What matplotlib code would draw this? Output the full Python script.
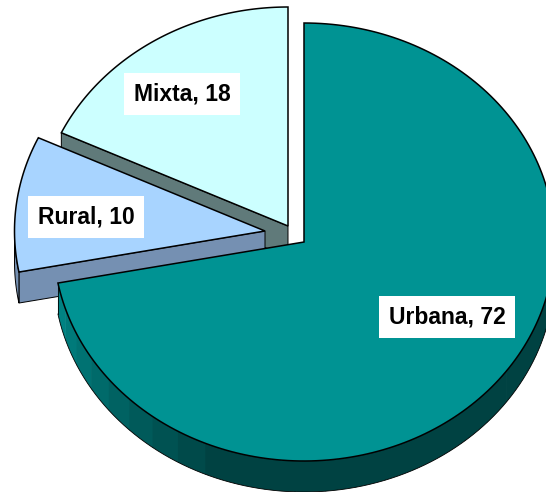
import numpy as np
import matplotlib
matplotlib.use("Agg")
import matplotlib.pyplot as plt
from matplotlib.colors import to_rgb
from matplotlib.patches import Polygon

categories = ["Urbana", "Rural", "Mixta"]
values = [72, 10, 18]
top_colors = ["#009393", "#A8D4FF", "#CCFFFF"]
side_colors = ["#004242", "#7590B2", "#607A7A"]
centers = [(304, 242), (265, 231), (288, 226)]
label_pos = [(447, 317), (86, 217), (182, 94)]

RX, RY = 250.5, 219
DEPTH = 31
EDGE = "black"


def rim(center, a0, a1, dy=0):
    # angles in degrees, clockwise from 12 o'clock
    t = np.radians(np.linspace(a0, a1, 200))
    return np.column_stack([center[0] + RX * np.sin(t), center[1] - RY * np.cos(t) + dy])


def wall(ax, pts, color, z):
    down = pts[::-1] + [0, DEPTH]
    ax.add_patch(Polygon(np.vstack([pts, down]), closed=True, fc=color, ec=EDGE, lw=0.7, zorder=z))


fig = plt.figure(figsize=(5.46, 4.92), dpi=100)
ax = fig.add_axes([0, 0, 1, 1])
ax.set_xlim(0, 546)
ax.set_ylim(492, 0)
ax.axis("off")

starts = np.cumsum([0] + values[:-1]) * 3.6
ends = np.cumsum(values) * 3.6

# back to front: Mixta, Rural, Urbana
for i in [2, 1, 0]:
    c, a0, a1 = centers[i], starts[i], ends[i]
    z = 3 - i
    arc = rim(c, a0, a1)
    if i == 0:
        # outer wall gets darker going away from the left end
        edges = np.arange(a1, 90, -7.0)
        light = np.array(to_rgb("#008282"))
        dark = np.array(to_rgb(side_colors[0]))
        for k, e in enumerate(edges):
            f = min(k / 8.0, 1.0)
            col = light * (1 - f) + dark * f
            seg = rim(c, max(e - 7.3, 90), e)
            ax.add_patch(Polygon(np.vstack([seg, seg[::-1] + [0, DEPTH]]), closed=True,
                                 fc=col, ec="none", zorder=z))
        low = rim(c, 90, a1, DEPTH)
        ax.plot(low[:, 0], low[:, 1], color=EDGE, lw=0.6, zorder=z)
        ax.plot([arc[-1, 0]] * 2, [arc[-1, 1], arc[-1, 1] + DEPTH], color=EDGE, lw=0.6, zorder=z)
    else:
        # straight cut facing the viewer
        wall(ax, np.array([c, arc[0]]), side_colors[i], z)
        if i == 1:
            wall(ax, rim(c, a0, 270), side_colors[i], z)
    ax.add_patch(Polygon(np.vstack([[c], arc]), closed=True, fc=top_colors[i], ec=EDGE,
                         lw=1.1, joinstyle="miter", zorder=z + 0.5))

for name, val, (x, y) in zip(categories, values, label_pos):
    ax.text(x, y, f"{name}, {val}", ha="center", va="center", fontsize=16.5, fontweight="bold",
            family="Liberation Sans", color="black", zorder=10,
            bbox=dict(fc="white", ec="none", boxstyle="square,pad=0.42"))

fig.savefig("out.png", dpi=100)
